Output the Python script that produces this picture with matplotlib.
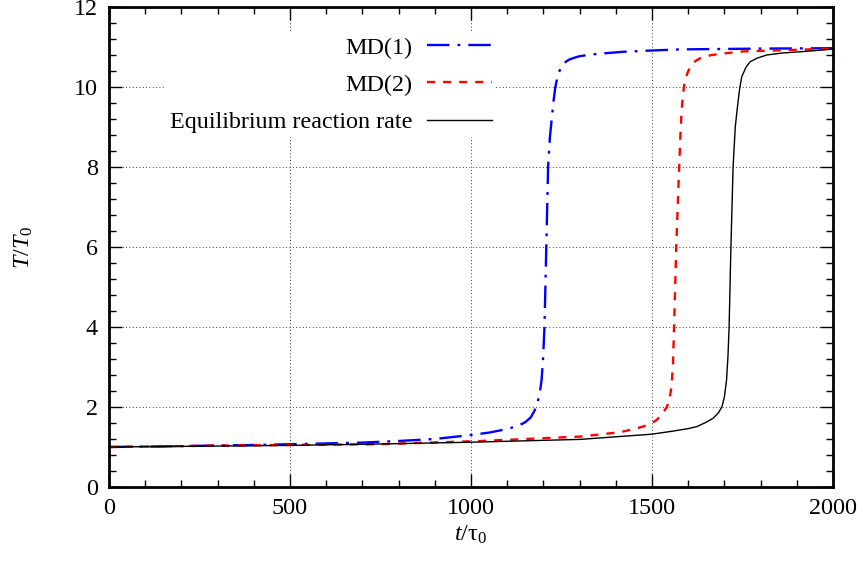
import matplotlib
matplotlib.use('Agg')
import matplotlib.pyplot as plt
from matplotlib.ticker import MultipleLocator

plt.rcParams['font.family'] = ['Liberation Serif', 'DejaVu Serif']
plt.rcParams['mathtext.fontset'] = 'custom'
plt.rcParams['mathtext.rm'] = 'Liberation Serif'
plt.rcParams['mathtext.it'] = 'Liberation Serif:italic'
plt.rcParams['font.size'] = 17.4

# MD(1)
t_md1 = [0, 100, 200, 300, 400, 500, 600, 700, 800, 900, 1000, 1050, 1100, 1130,
         1150, 1165, 1175, 1183, 1190, 1195, 1199, 1203, 1208, 1213, 1218, 1223,
         1228, 1233, 1240, 1248, 1257, 1270, 1285, 1300, 1330, 1365, 1420, 1494,
         1577, 1800, 2000]
T_md1 = [1.00, 1.01, 1.02, 1.04, 1.05, 1.07, 1.09, 1.11, 1.15, 1.20, 1.30, 1.36, 1.45, 1.53,
         1.62, 1.74, 1.90, 2.08, 2.35, 2.68, 3.20, 4.00, 6.00, 8.00, 8.75, 9.20,
         9.65, 10.00, 10.30, 10.48, 10.60, 10.68, 10.73, 10.77, 10.81, 10.84, 10.88, 10.91,
         10.94, 10.96, 10.97]

# MD(2)
t_md2 = [0, 250, 500, 749, 1025, 1301, 1412, 1450, 1475, 1499, 1512, 1522, 1532,
         1541, 1548, 1554, 1558, 1561, 1567, 1575, 1579, 1582, 1586, 1591, 1600,
         1610, 1620, 1633, 1660, 1688, 1752, 1900, 2000]
T_md2 = [1.00, 1.03, 1.05, 1.07, 1.15, 1.26, 1.37, 1.45, 1.51, 1.59, 1.67, 1.76, 1.88,
         2.00, 2.20, 2.50, 3.10, 4.00, 6.00, 8.00, 8.90, 9.43, 9.85, 10.17, 10.40,
         10.55, 10.65, 10.72, 10.79, 10.83, 10.89, 10.93, 10.96]

# equilibrium reaction rate
t_eq = [0, 250, 500, 749, 1000, 1301, 1499, 1560, 1600, 1624, 1650, 1669, 1683,
        1693, 1700, 1706, 1710, 1713, 1718, 1724, 1730, 1736, 1742, 1748, 1760,
        1771, 1790, 1817, 1860, 1909, 1992, 2000]
T_eq = [1.00, 1.02, 1.04, 1.075, 1.12, 1.19, 1.32, 1.40, 1.46, 1.51, 1.62, 1.72, 1.85,
        2.00, 2.25, 2.68, 3.30, 4.00, 6.00, 8.00, 9.00, 9.50, 9.95, 10.26, 10.50,
        10.63, 10.72, 10.80, 10.85, 10.88, 10.94, 10.95]

fig = plt.figure(figsize=(8.63, 5.65), dpi=100)
ax = fig.add_axes([109 / 863, 1 - 487 / 565, 724 / 863, 480 / 565])

ax.plot(t_md1, T_md1, color='#0000ff', lw=1.7, dashes=(9.5, 3.4, 1.2, 3.4), label='MD(1)')
ax.plot(t_md2, T_md2, color='#ff0000', lw=1.7, dashes=(3.4, 3.4), label='MD(2)')
ax.plot(t_eq, T_eq, color='black', lw=1.0, label='Equilibrium reaction rate')

ax.set_xlim(0, 2000)
ax.set_ylim(0, 12)
ax.xaxis.set_major_locator(MultipleLocator(500))
ax.xaxis.set_minor_locator(MultipleLocator(100))
ax.yaxis.set_major_locator(MultipleLocator(2))
ax.yaxis.set_minor_locator(MultipleLocator(0.4))
ax.tick_params(which='both', direction='in', top=True, right=True, width=1.0)
ax.tick_params(which='major', length=9.5, pad=8)
ax.tick_params(which='minor', length=5)
for s in ax.spines.values():
    s.set_linewidth(2)
ax.grid(which='major', color='black', linestyle=(0, (1, 3)), linewidth=0.6)
ax.set_axisbelow(True)

ax.set_xlabel(r'$\mathit{t}/\mathrm{\tau}_0$', labelpad=3)
ax.set_ylabel(r'$\mathit{T}/\mathit{T}_0$', labelpad=28)

leg = ax.legend(loc='upper right', bbox_to_anchor=(496 / 863, 1 - 33 / 565),
                bbox_transform=fig.transFigure, markerfirst=False, frameon=True,
                fancybox=False, edgecolor='none', facecolor='white', framealpha=1,
                handlelength=2.7, handletextpad=0.62, labelspacing=0.64,
                borderpad=0.15, borderaxespad=0)

fig.savefig('out.png', dpi=100)
